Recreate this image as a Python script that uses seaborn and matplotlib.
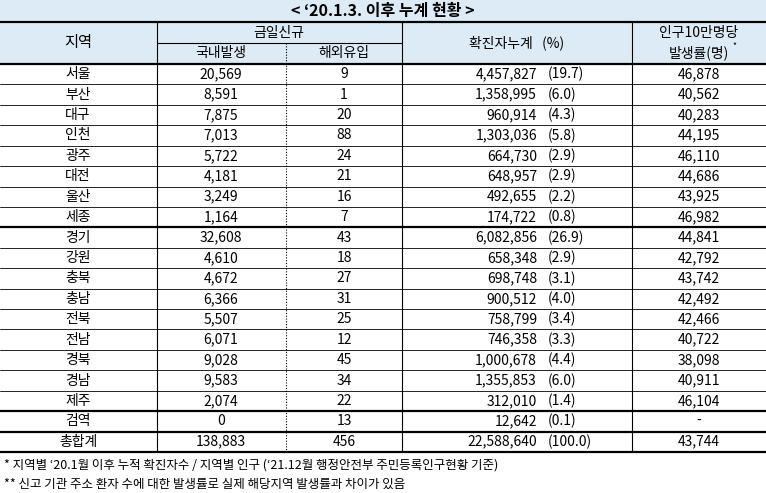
import matplotlib
matplotlib.use("Agg")
import matplotlib.pyplot as plt
import seaborn as sns

sns.set_theme(style="white")
plt.rcParams["font.family"] = ["Noto Sans CJK JP", "Noto Sans CJK KR", "Noto Sans CJK SC", "DejaVu Sans"]
plt.rcParams["text.color"] = "black"

regions = ["서울","부산","대구","인천","광주","대전","울산","세종","경기","강원","충북","충남","전북","전남","경북","경남","제주","검역","총합계"]
domestic = ["20,569","8,591","7,875","7,013","5,722","4,181","3,249","1,164","32,608","4,610","4,672","6,366","5,507","6,071","9,028","9,583","2,074","0","138,883"]
overseas = ["9","1","20","88","24","21","16","7","43","18","27","31","25","12","45","34","22","13","456"]
cumulative = ["4,457,827","1,358,995","960,914","1,303,036","664,730","648,957","492,655","174,722","6,082,856","658,348","698,748","900,512","758,799","746,358","1,000,678","1,355,853","312,010","12,642","22,588,640"]
percent = ["(19.7)","(6.0)","(4.3)","(5.8)","(2.9)","(2.9)","(2.2)","(0.8)","(26.9)","(2.9)","(3.1)","(4.0)","(3.4)","(3.3)","(4.4)","(6.0)","(1.4)","(0.1)","(100.0)"]
rate = ["46,878","40,562","40,283","44,195","46,110","44,686","43,925","46,982","44,841","42,792","43,742","42,492","42,466","40,722","38,098","40,911","46,104","-","43,744"]

W, H = 766, 493
fig = plt.figure(figsize=(W/100, H/100), dpi=100)
ax = fig.add_axes([0, 0, 1, 1])
ax.set_xlim(0, W); ax.set_ylim(H, 0); ax.axis("off")

bg = "#DCEBF5"
fs = 10
ax.add_patch(plt.Rectangle((0, 0), W, 22, color=bg, lw=0))
ax.add_patch(plt.Rectangle((0, 22), W, 42, color=bg, lw=0))
ax.text(383, 11, "< ‘20.1.3. 이후 누계 현황 >", ha="center", va="center", fontsize=11.5, fontweight="bold")

xs = [0, 157, 286, 402, 632, 766]
top, hdr = 22, 64
rh = 20.42
nrows = len(regions)
bottom = hdr + rh * nrows

ax.text(78, 43, "지역", ha="center", va="center", fontsize=fs+1)
ax.text(279, 33, "금일신규", ha="center", va="center", fontsize=fs)
ax.text(221, 53, "국내발생", ha="center", va="center", fontsize=fs)
ax.text(344, 53, "해외유입", ha="center", va="center", fontsize=fs)
ax.text(517, 43, "확진자누계   (%)", ha="center", va="center", fontsize=fs)
ax.text(699, 33, "인구10만명당", ha="center", va="center", fontsize=fs)
ax.text(699, 53, "발생률(명)", ha="center", va="center", fontsize=fs)
ax.text(734, 46, "*", ha="center", va="center", fontsize=6)

ax.plot([0, W], [top, top], color="black", lw=1.6)
ax.plot([0, W], [hdr, hdr], color="black", lw=1.6)
ax.plot([157, 402], [43, 43], color="black", lw=0.8)
for x in [157, 402, 632]:
    ax.plot([x, x], [top, bottom], color="black", lw=0.8)
ax.plot([286, 286], [43, bottom], color="black", lw=0.8, ls=(0, (1, 1.5)))
for i in range(1, nrows):
    y = hdr + rh * i
    thick = i in (8, 17, 18)
    ax.plot([0, W], [y, y], color="black", lw=1.6 if thick else 0.6)
ax.plot([0, W], [bottom, bottom], color="black", lw=1.6)

for i in range(nrows):
    y = hdr + rh * (i + 0.5)
    ax.text(78, y, regions[i], ha="center", va="center", fontsize=fs)
    ax.text(221, y, domestic[i], ha="center", va="center", fontsize=fs)
    ax.text(344, y, overseas[i], ha="center", va="center", fontsize=fs)
    ax.text(537, y, cumulative[i], ha="right", va="center", fontsize=fs)
    ax.text(548, y, percent[i], ha="left", va="center", fontsize=fs)
    ax.text(699, y, rate[i], ha="center", va="center", fontsize=fs)

ax.text(4, 465, "* 지역별 ‘20.1월 이후 누적 확진자수 / 지역별 인구 (‘21.12월 행정안전부 주민등록인구현황 기준)", ha="left", va="center", fontsize=9)
ax.text(4, 484, "** 신고 기관 주소 환자 수에 대한 발생률로 실제 해당지역 발생률과 차이가 있음", ha="left", va="center", fontsize=9)

fig.savefig("out.png", dpi=100)
